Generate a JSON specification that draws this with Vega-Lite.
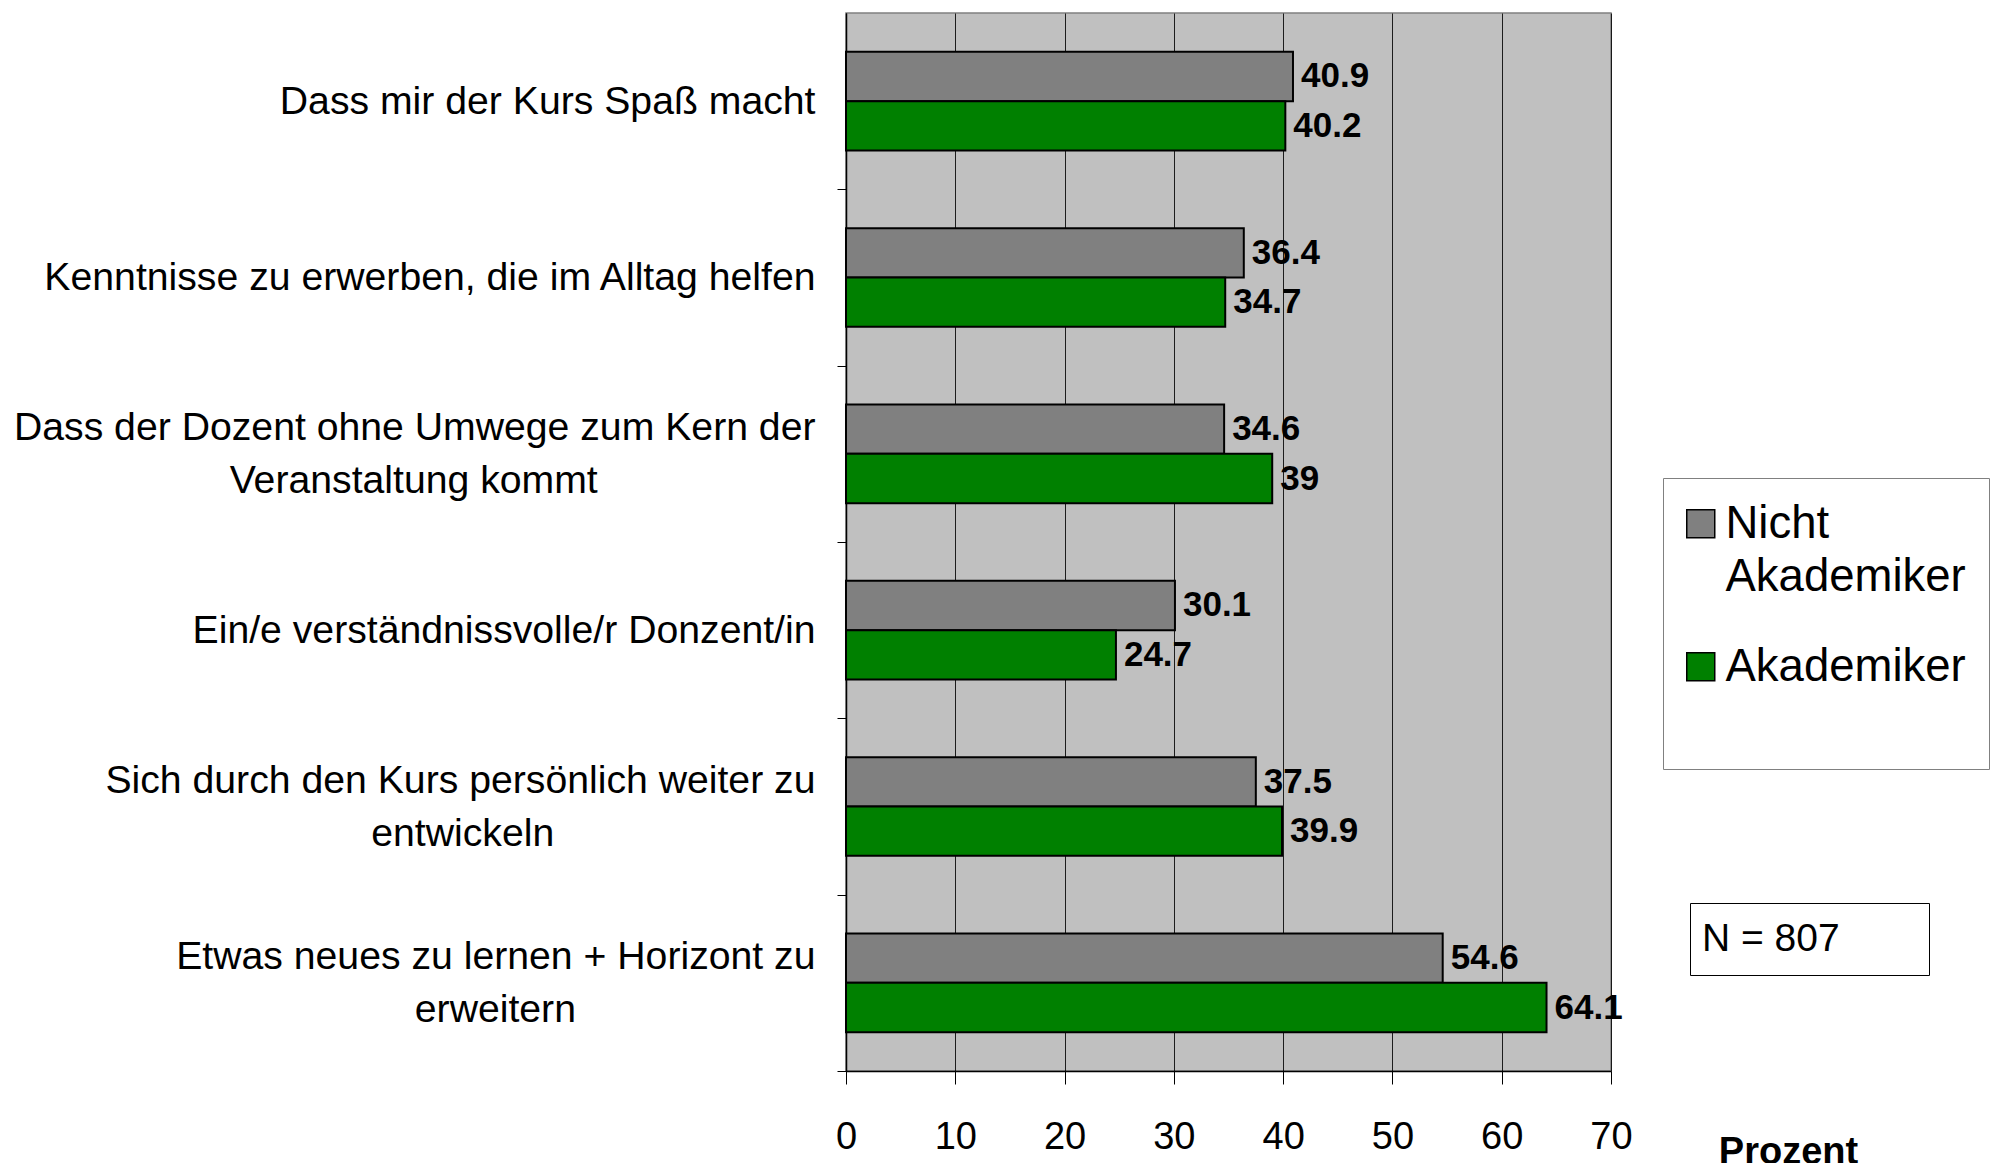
{
  "$schema": "https://vega.github.io/schema/vega-lite/v6.json",
  "width": 765,
  "height": 1058,
  "autosize": {"type": "none"},
  "padding": {"left": 846, "top": 13, "right": 381, "bottom": 92},
  "background": "white",
  "view": {"fill": "#C0C0C0", "stroke": "#808080", "strokeWidth": 1.5},
  "config": {
    "font": "Liberation Sans",
    "view": {"fill": "#C0C0C0", "stroke": "#808080", "strokeWidth": 1.5},
    "style": {"guide-label": {"lineHeight": 53}}
  },
  "layer": [
    {
      "data": {
        "values": [
          {"item": "Dass mir der Kurs Spaß macht", "group": "Nicht Akademiker", "value": 40.9},
          {"item": "Dass mir der Kurs Spaß macht", "group": "Akademiker", "value": 40.2},
          {"item": "Kenntnisse zu erwerben, die im Alltag helfen", "group": "Nicht Akademiker", "value": 36.4},
          {"item": "Kenntnisse zu erwerben, die im Alltag helfen", "group": "Akademiker", "value": 34.7},
          {"item": "Dass der Dozent ohne Umwege zum Kern der Veranstaltung kommt", "group": "Nicht Akademiker", "value": 34.6},
          {"item": "Dass der Dozent ohne Umwege zum Kern der Veranstaltung kommt", "group": "Akademiker", "value": 39},
          {"item": "Ein/e verständnissvolle/r Donzent/in", "group": "Nicht Akademiker", "value": 30.1},
          {"item": "Ein/e verständnissvolle/r Donzent/in", "group": "Akademiker", "value": 24.7},
          {"item": "Sich durch den Kurs persönlich weiter zu entwickeln", "group": "Nicht Akademiker", "value": 37.5},
          {"item": "Sich durch den Kurs persönlich weiter zu entwickeln", "group": "Akademiker", "value": 39.9},
          {"item": "Etwas neues zu lernen + Horizont zu erweitern", "group": "Nicht Akademiker", "value": 54.6},
          {"item": "Etwas neues zu lernen + Horizont zu erweitern", "group": "Akademiker", "value": 64.1}
        ]
      },
      "encoding": {
        "y": {
          "field": "item",
          "type": "nominal",
          "sort": [
            "Dass mir der Kurs Spaß macht",
            "Kenntnisse zu erwerben, die im Alltag helfen",
            "Dass der Dozent ohne Umwege zum Kern der Veranstaltung kommt",
            "Ein/e verständnissvolle/r Donzent/in",
            "Sich durch den Kurs persönlich weiter zu entwickeln",
            "Etwas neues zu lernen + Horizont zu erweitern"
          ],
          "scale": {"paddingInner": 0.44, "paddingOuter": 0.22},
          "axis": {
            "title": null,
            "grid": false,
            "tickOffset": 88.17,
            "labelOffset": {
              "condition": {
                "test": "indexof(['Dass der Dozent ohne Umwege zum Kern der Veranstaltung kommt', 'Sich durch den Kurs persönlich weiter zu entwickeln', 'Etwas neues zu lernen + Horizont zu erweitern'], datum.value) >= 0",
                "value": -114.67
              },
              "value": -88.17
            },
            "tickSize": 9,
            "tickColor": "#000000",
            "domainColor": "#000000",
            "domainWidth": 1.5,
            "labelFontSize": 39.2,
            "labelColor": "#000000",
            "labelLimit": 900,
            "labelPadding": 22,
            "labelLineHeight": 53,
            "labelExpr": "datum.value == 'Dass der Dozent ohne Umwege zum Kern der Veranstaltung kommt' ? ['Dass der Dozent ohne Umwege zum Kern der', 'Veranstaltung kommt\u00a0\u00a0\u00a0\u00a0\u00a0\u00a0\u00a0\u00a0\u00a0\u00a0\u00a0\u00a0\u00a0\u00a0\u00a0\u00a0\u00a0\u00a0\u00a0\u00a0\u200b'] : datum.value == 'Sich durch den Kurs persönlich weiter zu entwickeln' ? ['Sich durch den Kurs persönlich weiter zu', 'entwickeln\u00a0\u00a0\u00a0\u00a0\u00a0\u00a0\u00a0\u00a0\u00a0\u00a0\u00a0\u00a0\u00a0\u00a0\u00a0\u00a0\u00a0\u00a0\u00a0\u00a0\u00a0\u00a0\u00a0\u00a0\u200b'] : datum.value == 'Etwas neues zu lernen + Horizont zu erweitern' ? ['Etwas neues zu lernen + Horizont zu', 'erweitern\u00a0\u00a0\u00a0\u00a0\u00a0\u00a0\u00a0\u00a0\u00a0\u00a0\u00a0\u00a0\u00a0\u00a0\u00a0\u00a0\u00a0\u00a0\u00a0\u00a0\u00a0\u00a0\u200b'] : datum.label"
          }
        },
        "x": {
          "field": "value",
          "type": "quantitative",
          "scale": {"domain": [0, 70], "nice": false},
          "axis": {
            "values": [0, 10, 20, 30, 40, 50, 60, 70],
            "grid": true,
            "gridColor": "#000000",
            "gridWidth": 1,
            "gridOpacity": 0.85,
            "domainColor": "#000000",
            "domainWidth": 1.5,
            "tickColor": "#000000",
            "tickSize": 13,
            "labelFontSize": 38,
            "labelColor": "#000000",
            "labelPadding": 34,
            "labelFlush": false,
            "title": "Prozent",
            "titleFontSize": 38,
            "titleFontWeight": "bold",
            "titleColor": "#000000",
            "titleX": 942,
            "titleY": 92,
            "titleAlign": "center",
            "titleBaseline": "alphabetic"
          }
        },
        "yOffset": {"field": "group", "type": "nominal", "sort": ["Nicht Akademiker", "Akademiker"]}
      },
      "layer": [
        {
          "mark": {"type": "bar", "stroke": "#000000", "strokeWidth": 2},
          "encoding": {
            "color": {
              "field": "group",
              "type": "nominal",
              "scale": {"domain": ["Nicht Akademiker", "Akademiker"], "range": ["#808080", "#008000"]},
              "legend": {
                "orient": "none",
                "legendX": 817,
                "legendY": 465,
                "title": " ",
                "titleOrient": "bottom",
                "titleFontSize": 40,
                "titlePadding": 16,
                "fillColor": "#FFFFFF",
                "strokeColor": "#808080",
                "padding": 23,
                "symbolType": "square",
                "symbolSize": 784,
                "symbolOffset": -8,
                "symbolStrokeColor": "#000000",
                "symbolStrokeWidth": 1.5,
                "labelFontSize": 45.5,
                "labelColor": "#000000",
                "labelLimit": 600,
                "labelOffset": 2,
                "rowPadding": 43,
                "labelExpr": "datum.label == 'Nicht Akademiker' ? ['Nicht', 'Akademiker'] : datum.label"
              }
            }
          }
        },
        {
          "mark": {"type": "text", "align": "left", "baseline": "middle", "dx": 8, "fontSize": 35, "fontWeight": "bold", "color": "#000000"},
          "encoding": {
            "text": {"field": "value", "type": "quantitative", "format": "~g"}
          }
        }
      ]
    },
    {
      "data": {"values": [{"note": "N = 807"}]},
      "mark": {"type": "point", "opacity": 0},
      "encoding": {
        "shape": {
          "field": "note",
          "type": "nominal",
          "legend": {
            "orient": "none",
            "legendX": 844,
            "legendY": 890,
            "title": null,
            "fillColor": "#FFFFFF",
            "strokeColor": "#000000",
            "padding": 16,
            "symbolSize": 0,
            "symbolOpacity": 0,
            "symbolStrokeWidth": 0,
            "labelOffset": -43,
            "labelFontSize": 39,
            "labelColor": "#000000",
            "labelLimit": 600,
            "labelExpr": "datum.label + '\u00a0\u00a0\u00a0\u00a0\u00a0\u00a0\u2009\u200b'"
          }
        }
      }
    }
  ]
}
